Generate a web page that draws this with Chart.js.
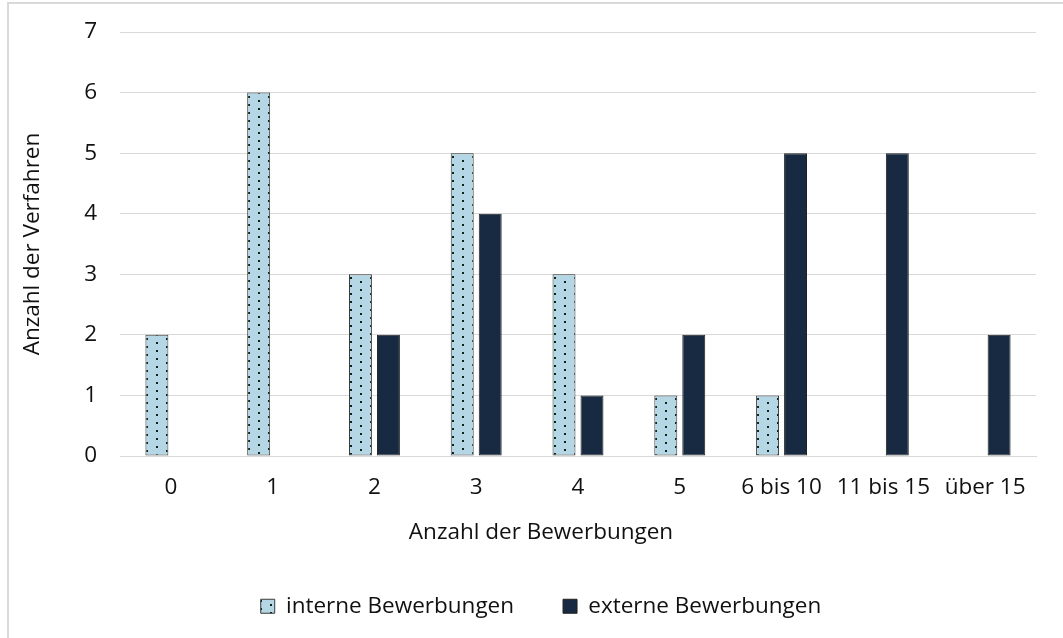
<!DOCTYPE html>
<html>
<head>
<meta charset="utf-8">
<script src="https://cdn.jsdelivr.net/npm/chart.js@4/dist/chart.umd.min.js"></script>
<style>
  html, body { margin: 0; padding: 0; background: #fff; }
  #wrap { position: relative; width: 1063px; height: 638px; overflow: hidden; }
  #frame { position: absolute; left: 7px; top: 2px; width: 1100px; height: 700px;
           border: 2px solid #d9d9d9; box-sizing: border-box; pointer-events: none; }
  #c { position: absolute; left: 0; top: 0; }
</style>
</head>
<body>
<div id="wrap">
  <canvas id="c" width="1063" height="638"></canvas>
  <div id="frame"></div>
</div>
<script>
// Kategorien und Werte
const categories = ['0', '1', '2', '3', '4', '5', '6 bis 10', '11 bis 15', 'über 15'];
const interneBewerbungen = [2, 6, 3, 5, 3, 1, 1, 0, 0];
const externeBewerbungen = [0, 0, 2, 4, 1, 2, 5, 5, 2];
const yTicks = [0, 1, 2, 3, 4, 5, 6, 7];
const seriesNames = ['interne Bewerbungen', 'externe Bewerbungen'];

const FONT = '"Open Sans", "Noto Sans", sans-serif';
const FSIZE = 22.5;
const TEXT = '#111';
const LIGHT = '#b5d6e4';
const DARK = '#172a42';
// Achsentitel und Legende sind auf die gesamte Diagrammbreite zentriert
const CENTER_X = 541;

// gepunktetes Füllmuster, optional auf eine Balkenkante ausgerichtet
function dotPattern(offsetX, offsetY) {
  const t = document.createElement('canvas');
  t.width = 20; t.height = 8;
  const g = t.getContext('2d');
  g.fillStyle = LIGHT; g.fillRect(0, 0, 20, 8);
  g.fillStyle = '#0f2418';
  g.fillRect(0, 0, 2, 2);
  g.fillRect(10, 4, 2, 2);
  const p = document.createElement('canvas').getContext('2d').createPattern(t, 'repeat');
  if (offsetX !== undefined && p.setTransform) {
    p.setTransform(new DOMMatrix().translate(offsetX, offsetY));
  }
  return p;
}

// Legendenhöhe, Legendenlage und Lage des x-Achsentitels
const layoutTweaks = {
  id: 'layoutTweaks',
  beforeInit(chart) {
    const orig = chart.legend.fit;
    chart.legend.fit = function () {
      orig.call(this);
      this.height = 92;
    };
  },
  afterLayout(chart) {
    const lg = chart.legend;
    const shift = CENTER_X - (lg.left + lg.right) / 2;
    lg.left += shift;
    lg.right += shift;
    const xs = chart.scales.x;
    if (!xs._titleWrapped) {
      const origTitle = xs.drawTitle;
      xs.drawTitle = function () {
        const c = this.ctx;
        c.save();
        c.translate(CENTER_X - (this.left + this.right) / 2, 0);
        origTitle.apply(this, arguments);
        c.restore();
      };
      xs._titleWrapped = true;
    }
  }
};

const chart = new Chart(document.getElementById('c'), {
  type: 'bar',
  data: {
    labels: categories,
    datasets: [
      {
        label: seriesNames[0],
        data: interneBewerbungen,
        backgroundColor: dotPattern(),
        borderColor: '#3a3a3a',
        borderWidth: (ctx) => (ctx.raw ? 1 : 0),
        borderSkipped: false,
        barPercentage: 0.82,
        categoryPercentage: 0.55
      },
      {
        label: seriesNames[1],
        data: externeBewerbungen,
        backgroundColor: DARK,
        borderColor: '#222',
        borderWidth: (ctx) => (ctx.raw ? 1 : 0),
        borderSkipped: false,
        barPercentage: 0.82,
        categoryPercentage: 0.55
      }
    ]
  },
  options: {
    responsive: false,
    animation: false,
    devicePixelRatio: 1,
    layout: { padding: { left: 0, top: 32, right: 27, bottom: 0 } },
    plugins: {
      tooltip: { enabled: false },
      legend: {
        position: 'bottom',
        labels: {
          font: { family: FONT, size: FSIZE },
          color: TEXT,
          boxWidth: 14,
          boxHeight: 14,
          padding: 49,
          generateLabels(chart) {
            return chart.data.datasets.map((ds, i) => ({
              text: ds.label,
              fillStyle: i === 0 ? dotPattern() : DARK,
              strokeStyle: i === 0 ? '#3a3a3a' : '#222',
              lineWidth: 1,
              hidden: false,
              datasetIndex: i,
              fontColor: TEXT
            }));
          }
        }
      }
    },
    scales: {
      x: {
        grid: { display: false, drawTicks: false },
        border: { display: true, color: '#d9d9d9', width: 1 },
        ticks: { font: { family: FONT, size: FSIZE }, color: TEXT, padding: 18, maxRotation: 0, autoSkip: false },
        title: {
          display: true,
          text: 'Anzahl der Bewerbungen',
          font: { family: FONT, size: FSIZE },
          color: TEXT,
          padding: { top: 0, bottom: 0 }
        },
        afterFit(scale) { scale.height = 90; }
      },
      y: {
        min: 0,
        max: 7,
        afterBuildTicks(scale) { scale.ticks = yTicks.map((v) => ({ value: v })); },
        grid: { color: '#d9d9d9', lineWidth: 1, drawTicks: false },
        border: { display: false },
        ticks: { font: { family: FONT, size: FSIZE }, color: TEXT, padding: 23 },
        title: {
          display: true,
          text: 'Anzahl der Verfahren',
          font: { family: FONT, size: FSIZE },
          color: TEXT,
          padding: { top: 19, bottom: 0 }
        },
        afterFit(scale) {
          scale.width = 120;
          scale.paddingTop = 0;
          scale.paddingBottom = 0;
        }
      }
    }
  },
  plugins: [layoutTweaks]
});

// Muster je Balken an dessen linker Kante ausrichten
const meta = chart.getDatasetMeta(0);
chart.data.datasets[0].backgroundColor = meta.data.map((el) => {
  const left = Math.round(el.x - el.width / 2);
  return dotPattern(left + 1, Math.round(el.y) + 3);
});
chart.update('none');
</script>
</body>
</html>
